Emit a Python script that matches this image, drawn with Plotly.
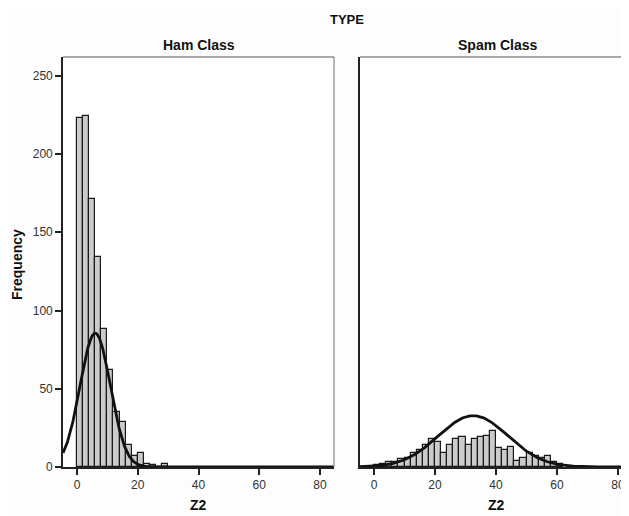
import numpy as np
import plotly.graph_objects as go

# ---------------- data ----------------
bin_width = 2
ham_bin_start = [0, 2, 4, 6, 8, 10, 12, 14, 16, 18, 20, 22, 24, 26, 28]
ham_counts = [223, 224, 171, 134, 88, 62, 35, 29, 14, 7, 9, 2, 1, 0, 2]

spam_bin_start = [0, 2, 4, 6, 8, 10, 12, 14, 16, 18, 20, 22, 24, 26, 28, 30,
                  32, 34, 36, 38, 40, 42, 44, 46, 48, 50, 52, 54, 56, 58, 60]
spam_counts = [1, 2, 3, 3, 5, 6, 9, 11, 14, 18, 16, 9, 14, 18, 19, 14,
               18, 19, 20, 23, 12, 11, 13, 4, 6, 9, 7, 6, 7, 3, 2]

# fitted normal curves (mean, sd, peak height) as drawn
ham_curve = dict(mean=6.0, sd=5.0, peak=85.5)
spam_curve = dict(mean=32.5, sd=11.4, peak=32.8)

x_ticks = [0, 20, 40, 60, 80]
y_ticks = [0, 50, 100, 150, 200, 250]

# ---------------- figure ----------------
# page body has an 8px margin, so the figure is drawn 8px in from the corner
OFF = 8
W, H = 629 - OFF, 516 - OFF
ml, mr, mt, mb = 63 - OFF, 0, 57 - OFF, 516 - 467
pw = W - ml - mr
ph = H - mt - mb

def px_to_paper_x(px):  # px given in screen (reference) coordinates
    return (px - OFF - ml) / pw

def px_to_paper_y(py):
    return 1 - (py - OFF - mt) / ph

dom1 = [0, px_to_paper_x(334)]
dom2 = [px_to_paper_x(360), 1]

bar_fill = "#cbcbcb"
bar_line = "#1a1a1a"

fig = go.Figure()

def add_hist(starts, counts, xa, ya):
    fig.add_trace(go.Bar(
        x=[s + bin_width / 2 for s in starts], y=counts, width=bin_width,
        marker=dict(color=bar_fill, line=dict(color=bar_line, width=1.2)),
        xaxis=xa, yaxis=ya, showlegend=False, hoverinfo="x+y"))

def add_curve(params, xr, xa, ya):
    xs = np.linspace(xr[0], xr[1], 400)
    ys = params["peak"] * np.exp(-((xs - params["mean"]) ** 2) / (2 * params["sd"] ** 2))
    fig.add_trace(go.Scatter(x=xs, y=ys, mode="lines",
                             line=dict(color="#111111", width=2.8),
                             xaxis=xa, yaxis=ya, showlegend=False,
                             hoverinfo="skip", cliponaxis=True))

xr1 = [-4.6, 84.6]
xr2 = [-4.6, 83.6]
yr = [0, 262]

add_hist(ham_bin_start, ham_counts, "x", "y")
add_hist(spam_bin_start, spam_counts, "x2", "y2")
add_curve(ham_curve, xr1, "x", "y")
add_curve(spam_curve, xr2, "x2", "y2")

tick_font = dict(family="Liberation Sans Narrow, Arial Narrow, Liberation Sans, Arial",
                 size=12, color="#333333")

common_x = dict(range=xr1, tickvals=x_ticks, ticks="outside", ticklen=6, tickwidth=1.5,
                tickcolor="#222222", showline=True, linecolor="#222222", linewidth=1.6,
                showgrid=False, zeroline=False, tickfont=tick_font, fixedrange=True)

fig.update_layout(
    width=W, height=H,
    margin=dict(l=ml, r=mr, t=mt, b=mb),
    paper_bgcolor="#fdfdfd", plot_bgcolor="#ffffff",
    bargap=0,
    xaxis=dict(domain=dom1, anchor="y", **common_x),
    xaxis2=dict(domain=dom2, anchor="y2", **{**common_x, "range": xr2}),
    yaxis=dict(domain=[0, 1], range=yr, tickvals=y_ticks, ticks="outside", ticklen=6,
               tickwidth=1.5, tickcolor="#222222", showline=True, linecolor="#222222",
               linewidth=1.6, showgrid=False, zeroline=False, tickfont=tick_font,
               fixedrange=True),
    yaxis2=dict(domain=[0, 1], range=yr, anchor="x2", showticklabels=False, ticks="",
                showline=True, linecolor="#222222", linewidth=1.6, showgrid=False,
                zeroline=False, fixedrange=True),
    showlegend=False,
)

# light frame lines (top / right of left panel, top of right panel)
frame = "#8c8c8c"
fig.add_shape(type="line", xref="paper", yref="paper", x0=dom1[0], x1=dom1[1], y0=1, y1=1,
              line=dict(color=frame, width=1.3))
fig.add_shape(type="line", xref="paper", yref="paper", x0=dom1[1], x1=dom1[1], y0=0, y1=1,
              line=dict(color=frame, width=1.3))
fig.add_shape(type="line", xref="paper", yref="paper", x0=dom2[0], x1=dom2[1], y0=1, y1=1,
              line=dict(color=frame, width=1.3))

def ann(text, x, y, size=14, angle=0):
    fig.add_annotation(text="<b>%s</b>" % text, xref="paper", yref="paper",
                       x=x, y=y, showarrow=False, textangle=angle,
                       font=dict(family="Liberation Sans, Arial", size=size, color="#111111"),
                       xanchor="center", yanchor="middle")

ann("TYPE", px_to_paper_x(347), px_to_paper_y(20), size=13)
ann("Ham Class", (dom1[0] + dom1[1]) / 2, px_to_paper_y(45))
ann("Spam Class", px_to_paper_x(498), px_to_paper_y(45))
ann("Z2", (dom1[0] + dom1[1]) / 2, px_to_paper_y(505))
ann("Z2", px_to_paper_x(496), px_to_paper_y(505))
ann("Frequency", px_to_paper_x(17), px_to_paper_y(265), angle=-90)

fig.write_html("out.html")
